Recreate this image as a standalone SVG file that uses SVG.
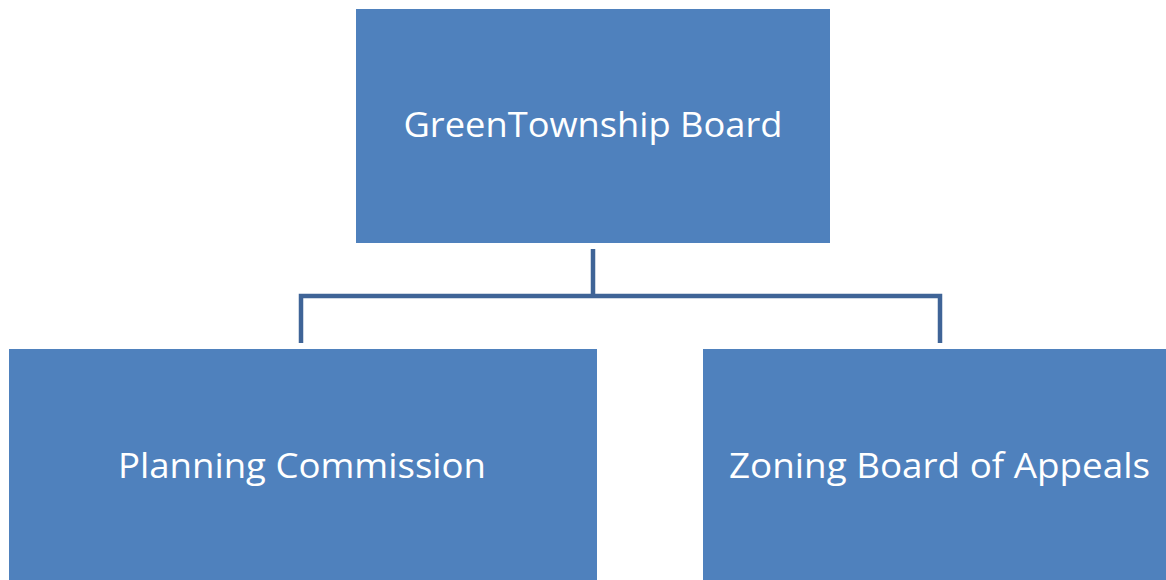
<svg xmlns="http://www.w3.org/2000/svg" width="1166" height="580" viewBox="0 0 1166 580">
<style>
.box{fill:#4F81BD;}
.lbl{fill:#FFFFFF;font-family:"Open Sans","Liberation Sans",sans-serif;font-size:35px;text-anchor:middle;}
.conn{fill:none;stroke:#3F6497;stroke-width:4.5;}
</style>
<rect width="1166" height="580" fill="#FFFFFF"/>
<g id="connectors">
<path class="conn" d="M593,249 V296 M301,343 V296 H940 V343"/>
</g>
<g id="node-board">
<rect class="box" x="356" y="9" width="474" height="234"/>
<text class="lbl" x="593" y="137" textLength="379" lengthAdjust="spacingAndGlyphs">GreenTownship Board</text>
</g>
<g id="node-planning">
<rect class="box" x="9" y="349" width="588" height="231"/>
<text class="lbl" x="302" y="478" textLength="368" lengthAdjust="spacingAndGlyphs">Planning Commission</text>
</g>
<g id="node-zoning">
<rect class="box" x="703" y="349" width="474" height="231"/>
<text class="lbl" x="939.5" y="478" textLength="421" lengthAdjust="spacingAndGlyphs">Zoning Board of Appeals</text>
</g>
</svg>
